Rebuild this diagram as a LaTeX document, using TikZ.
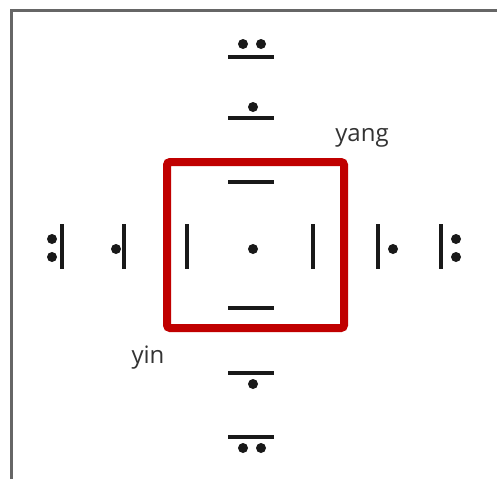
\documentclass[tikz,border=0pt]{standalone}
\usepackage{fontspec}
\setmainfont{Open Sans}
\definecolor{boxred}{HTML}{C00000}
\definecolor{framegray}{HTML}{666666}
\definecolor{textgray}{HTML}{333333}
\begin{document}
\begin{tikzpicture}[x=1pt,y=-1pt,
  bar/.style={line width=3.5pt,line cap=butt,black!90},
  pip/.style={fill=black!90,draw=none},
  lbl/.style={font=\fontsize{24}{24}\selectfont,text=textgray,inner sep=0pt,anchor=base}]
\useasboundingbox (0,0) rectangle (497,479);
\fill[white] (0,0) rectangle (497,479);
% frame (top and left edges)
\draw[framegray,line width=3pt] (11,479) -- (11,10) -- (497,10);
% red box
\draw[boxred,line width=8pt,rounded corners=3pt] (167,162) rectangle (344,328);
% top: two dots over line
\draw[bar] (228,57) -- (274,57);
\fill[pip] (243,44) circle (5); \fill[pip] (261,44) circle (5);
% one dot over line
\draw[bar] (228,118) -- (274,118);
\fill[pip] (253,107) circle (5);
% inner top line
\draw[bar] (228,182) -- (274,182);
% inner bottom line
\draw[bar] (228,308) -- (274,308);
% centre dot
\fill[pip] (253,249) circle (5);
% inner vertical bars
\draw[bar] (187,224) -- (187,269);
\draw[bar] (313,224) -- (313,269);
% left: one dot
\draw[bar] (124,224) -- (124,269);
\fill[pip] (116,249) circle (5);
% left: two dots
\draw[bar] (62,224) -- (62,269);
\fill[pip] (52,239) circle (5); \fill[pip] (52,257) circle (5);
% right: one dot
\draw[bar] (378,224) -- (378,269);
\fill[pip] (393,249) circle (5);
% right: two dots
\draw[bar] (441,224) -- (441,269);
\fill[pip] (456,239) circle (5); \fill[pip] (456,257) circle (5);
% bottom: line over one dot
\draw[bar] (228,373) -- (274,373);
\fill[pip] (253,384) circle (5);
% bottom: line over two dots
\draw[bar] (228,437) -- (274,437);
\fill[pip] (243,448) circle (5); \fill[pip] (261,448) circle (5);
% labels
\node[lbl] (yang) at (362,141) {yang};
\node[lbl] (yin) at (148,363) {yin};
\end{tikzpicture}
\end{document}
